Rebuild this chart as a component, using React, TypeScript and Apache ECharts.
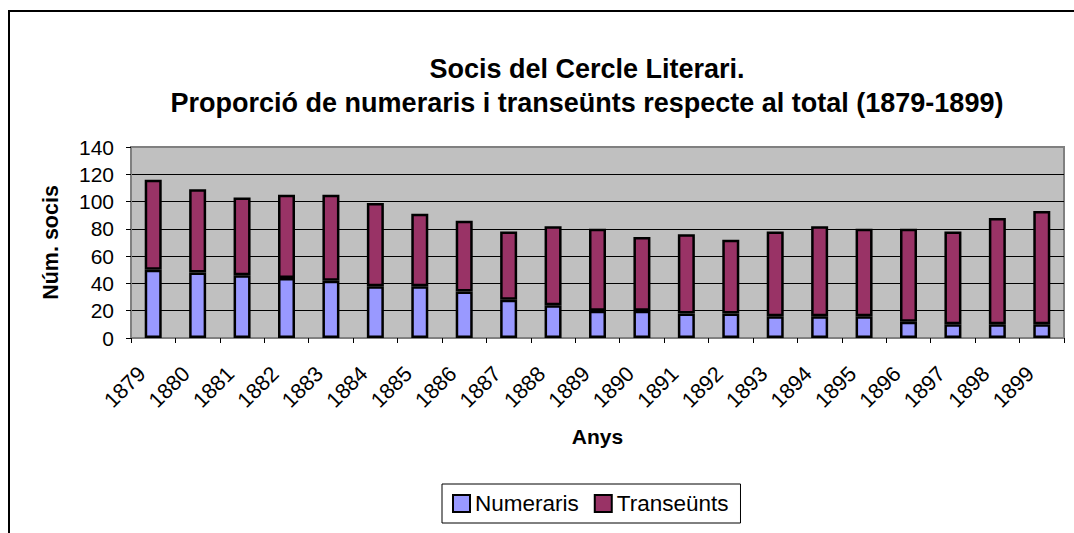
import React, { useEffect, useRef } from "react";
import * as echarts from "echarts";

const years = ["1879","1880","1881","1882","1883","1884","1885","1886","1887","1888","1889","1890","1891","1892","1893","1894","1895","1896","1897","1898","1899"];
const numeraris = [50,48,46,44,42,38,38,34,28,24,20,20,18,18,16,16,16,12,10,10,10];
const transeunts = [66,61,57,61,63,61,53,52,50,58,60,54,58,54,62,66,64,68,68,78,83];
const yTicks = { min: 0, max: 140, interval: 20 };

const FONT = "'Liberation Sans', Arial, sans-serif";

export default function App() {
  const ref = useRef<HTMLDivElement>(null);
  useEffect(() => {
    document.body.style.margin = "0";
    document.body.style.overflow = "hidden";
    const chart = echarts.init(ref.current!, null, { renderer: "svg" });
    chart.setOption({
      animation: false,
      backgroundColor: "#ffffff",
      textStyle: { fontFamily: FONT, color: "#000" },
      graphic: [
        {
          type: "rect",
          shape: { x: 9, y: 11, width: 1200, height: 800 },
          style: { fill: "none", stroke: "#000", lineWidth: 2 },
          silent: true,
        },
        {
          type: "text",
          x: 587,
          y: 69,
          style: {
            text: "Socis del Cercle Literari.",
            font: `bold 27px ${FONT}`,
            fill: "#000",
            align: "center",
            verticalAlign: "middle",
          },
        },
        {
          type: "text",
          x: 587,
          y: 103,
          style: {
            text: "Proporció de numeraris i transeünts respecte al total (1879-1899)",
            font: `bold 27px ${FONT}`,
            fill: "#000",
            align: "center",
            verticalAlign: "middle",
          },
        },
      ],
      legend: {
        left: 442,
        top: 484,
        orient: "horizontal",
        padding: [8, 12, 8, 10],
        itemGap: 15,
        itemWidth: 17,
        itemHeight: 17,
        borderColor: "#000",
        borderWidth: 1,
        icon: "rect",
        itemStyle: { borderColor: "#000", borderWidth: 2 },
        textStyle: { fontSize: 22.5, color: "#000", fontFamily: FONT },
        data: ["Numeraris", "Transeünts"],
      },
      grid: {
        left: 131,
        top: 147,
        right: 10,
        bottom: 195,
        show: true,
        backgroundColor: "#C0C0C0",
        borderColor: "#808080",
        borderWidth: 2,
        containLabel: false,
      },
      xAxis: {
        type: "category",
        data: years,
        boundaryGap: true,
        name: "Anys",
        nameLocation: "middle",
        nameGap: 88,
        nameTextStyle: { fontSize: 21, fontWeight: "bold", color: "#000", fontFamily: FONT },
        axisLine: { show: true, lineStyle: { color: "#808080", width: 2 } },
        axisTick: { show: true, length: 5, inside: false, lineStyle: { color: "#000", width: 1 } },
        axisLabel: {
          rotate: 45,
          fontSize: 21.5,
          color: "#000",
          margin: 21,
          padding: [0, 16, 0, 0],
          interval: 0,
          fontFamily: FONT,
        },
        splitLine: { show: false },
      },
      yAxis: {
        type: "value",
        min: yTicks.min,
        max: yTicks.max,
        interval: yTicks.interval,
        name: "Núm. socis",
        nameLocation: "middle",
        nameGap: 69,
        nameRotate: 90,
        nameTextStyle: { fontSize: 21.5, fontWeight: "bold", color: "#000", fontFamily: FONT },
        axisLine: { show: true, lineStyle: { color: "#808080", width: 2 } },
        axisTick: { show: true, length: 5, inside: false, lineStyle: { color: "#000", width: 1 } },
        axisLabel: { fontSize: 21, color: "#000", margin: 17, fontFamily: FONT },
        splitLine: {
          show: true,
          showMinLine: false,
          showMaxLine: false,
          lineStyle: { color: "#000", width: 1 },
        },
      },
      series: [
        {
          name: "Numeraris",
          type: "bar",
          stack: "total",
          data: numeraris,
          barWidth: 17,
          itemStyle: { color: "#9999FF", borderColor: "#000", borderWidth: 2.5 },
        },
        {
          name: "Transeünts",
          type: "bar",
          stack: "total",
          data: transeunts,
          barWidth: 17,
          itemStyle: { color: "#993366", borderColor: "#000", borderWidth: 2.5 },
        },
      ],
    });
    return () => chart.dispose();
  }, []);
  return <div ref={ref} style={{ width: 1074, height: 533 }} />;
}
